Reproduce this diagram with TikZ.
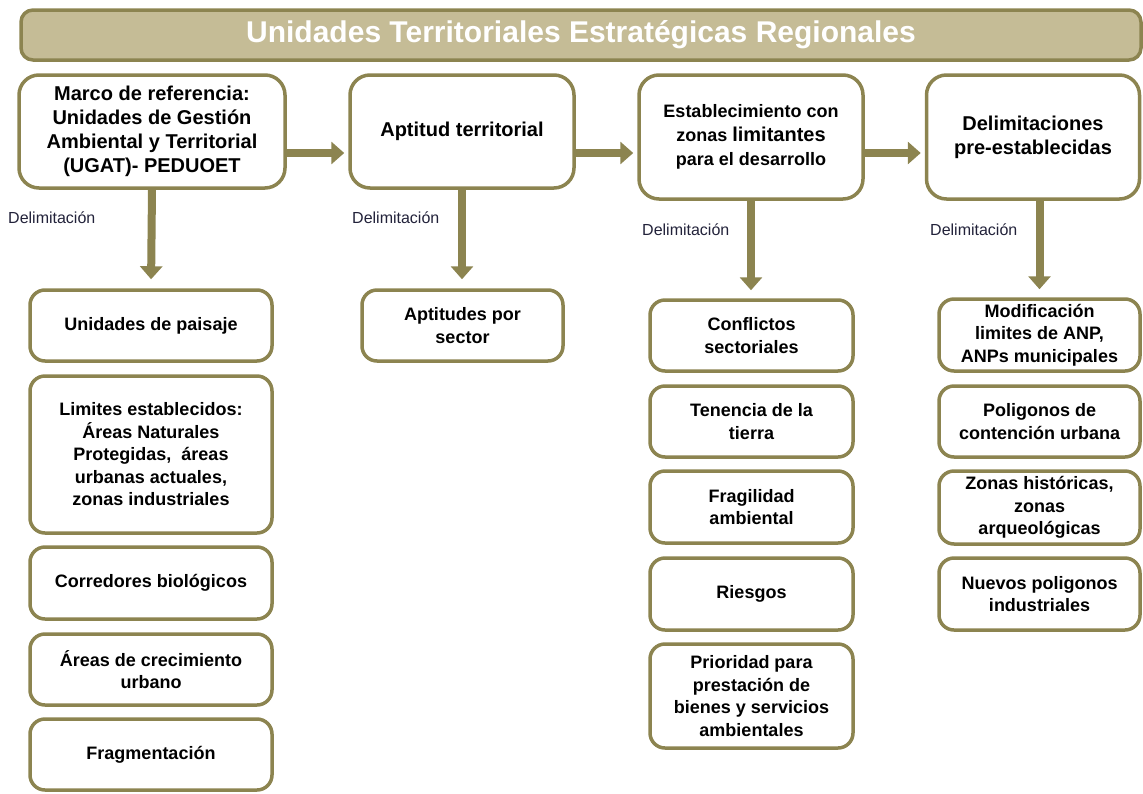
\documentclass[tikz,border=0pt]{standalone}
\usepackage{fontspec}
\setmainfont{Liberation Sans}
\usepackage{xcolor}
\usetikzlibrary{arrows.meta,positioning}
\definecolor{olive}{HTML}{8C8450}
\definecolor{sand}{HTML}{C5BC96}
\definecolor{ink}{HTML}{22223A}
\tikzset{%
  box/.style={rectangle,draw=olive,line width=3.5pt,rounded corners=15pt,
    fill=white,align=center,inner sep=0pt,
    font=\bfseries\fontsize{18}{22.5}\selectfont},
  head/.style={box,rounded corners=20pt,font=\bfseries\fontsize{20}{24}\selectfont},
  flow/.style={olive,line width=8pt,-{Triangle[length=13pt,width=22pt]}},
  note/.style={anchor=west,inner sep=0pt,text=ink,font=\fontsize{16}{18}\selectfont},
}

\begin{document}
\begin{tikzpicture}[x=1pt,y=-1pt,
    banner/.style={rectangle,draw=olive,fill=sand,line width=3.5pt,
      rounded corners=12pt,text=white,font=\bfseries\fontsize{30}{34}\selectfont}]
    \useasboundingbox (0,0) rectangle (1143,793);

    \node[banner,minimum width=1120pt,minimum height=50pt] (title) at (581,35)
      {Unidades Territoriales Estratégicas Regionales};

    % etapas
    \node[head,minimum width=266pt,minimum height=113pt] (marco) at (152,131.5)
      {Marco de referencia:\\Unidades de Gestión\\Ambiental y Territorial\\(UGAT)- PEDUOET};
    \node[head,minimum width=224pt,minimum height=113pt] (aptitud) at (462,131.5)
      {Aptitud territorial};
    \node[head,minimum width=224pt,minimum height=124pt,
      font=\bfseries\fontsize{18}{24}\selectfont] (limit) at (751,137)
      {Establecimiento con\\zonas {\fontsize{20}{24}\selectfont limitantes}\\para el desarrollo};
    \node[head,minimum width=213pt,minimum height=124pt] (preest) at (1033,137)
      {Delimitaciones\\pre-establecidas};

    \coordinate (arow) at (0,153);
    \foreach \a/\b in {marco/aptitud,aptitud/limit,limit/preest}
    \draw[flow,shorten >=4pt] (\a.east |- arow) -- (\b.west |- arow);

    % columna 1
    \foreach \id/\yc/\hh/\txt in {
      paisaje/325.5/71/{Unidades de paisaje},
      limites/454.5/157/{Limites establecidos:\\Áreas Naturales\\Protegidas,\ \ áreas\\urbanas actuales,\\zonas industriales},
      corredores/583/72/{Corredores biológicos},
      crecimiento/669.5/71/{Áreas de crecimiento\\urbano},
      fragmentos/754.5/71/{Fragmentación}}
    \node[box,minimum width=242pt,minimum height=\hh pt] (\id) at (151,\yc) {\txt};

    % columna 2
    \node[box,minimum width=201pt,minimum height=71pt] (sector) at (462.5,325.5)
      {Aptitudes por\\sector};

    % columna 3
    \foreach \id/\yc/\hh/\txt in {
      conflictos/335.5/71/{Conflictos\\sectoriales},
      tenencia/421.5/71/{Tenencia de la\\tierra},
      fragilidad/507/72/{Fragilidad\\ambiental},
      riesgos/594/72/{Riesgos},
      prioridad/696/104/{Prioridad para\\prestación de\\bienes y servicios\\ambientales}}
    \node[box,minimum width=203pt,minimum height=\hh pt] (\id) at (751.5,\yc) {\txt};

    % columna 4
    \foreach \id/\yc/\hh/\txt in {
      anp/335/72/{Modificación\\limites de ANP,\\ANPs municipales},
      contencion/421.5/71/{Poligonos de\\contención urbana},
      historicas/507.5/73/{Zonas históricas,\\zonas\\arqueológicas},
      industria/594/72/{Nuevos poligonos\\industriales}}
    \node[box,minimum width=201pt,minimum height=\hh pt] (\id) at (1039.5,\yc) {\txt};

    \draw[flow,shorten >=9pt] (marco.south) -- (paisaje.north);
    \draw[flow,shorten >=9pt] (aptitud.south) -- (aptitud.south |- sector.north);
    \draw[flow,shorten >=8pt] (limit.south) -- (limit.south |- conflictos.north);
    \draw[flow,shorten >=8pt] (preest.south -| anp.north) -- (anp.north);

    \node[note] (d1) at (8,218) {Delimitación};
    \node[note] (d2) at (352,218) {Delimitación};
    \node[note] (d3) at (642,230) {Delimitación};
    \node[note] (d4) at (930,230) {Delimitación};
  \end{tikzpicture}
\end{document}
